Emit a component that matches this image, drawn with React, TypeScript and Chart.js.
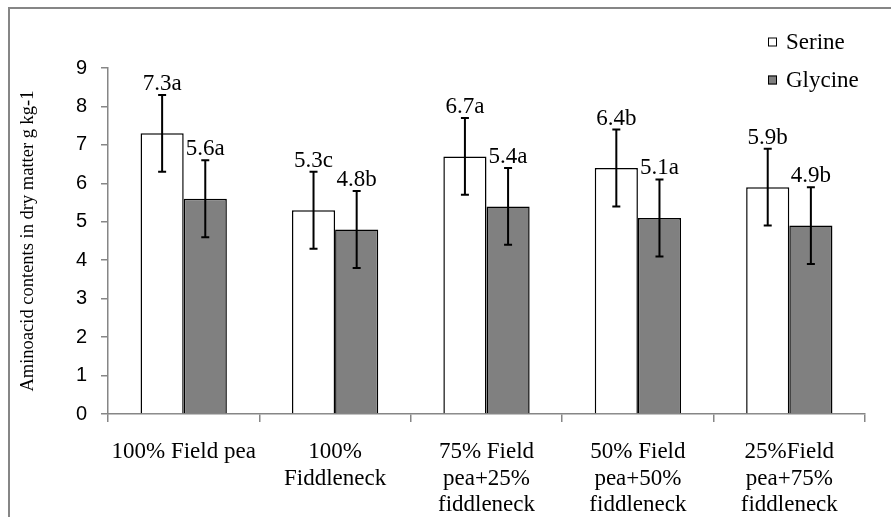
import React, { useEffect, useRef } from "react";
import { Chart, registerables } from "chart.js";

Chart.register(...registerables);

const categories: string[][] = [
  ["100% Field pea"],
  ["100%", "Fiddleneck"],
  ["75% Field", "pea+25%", "fiddleneck"],
  ["50% Field", "pea+50%", "fiddleneck"],
  ["25%Field", "pea+75%", "fiddleneck"],
];
const serineValues = [7.3, 5.3, 6.7, 6.4, 5.9];
const glycineValues = [5.6, 4.8, 5.4, 5.1, 4.9];
const serineErrors = [1, 1, 1, 1, 1];
const glycineErrors = [1, 1, 1, 1, 1];
const serineLetters = ["a", "c", "a", "b", "b"];
const glycineLetters = ["a", "b", "a", "a", "b"];
const yTicks = [0, 1, 2, 3, 4, 5, 6, 7, 8, 9];

const SERIF = "'Liberation Serif', 'Times New Roman', serif";
const SANS = "'Liberation Sans', Arial, sans-serif";
const AXIS_GRAY = "#868686";
const TEXT_SIZE = 23;

const errorsByDataset = [serineErrors, glycineErrors];
const lettersByDataset = [serineLetters, glycineLetters];

const errorBarPlugin = {
  id: "errorBars",
  afterDatasetsDraw(chart: any) {
    const ctx = chart.ctx;
    const yScale = chart.scales.y;
    ctx.save();
    chart.data.datasets.forEach((ds: any, di: number) => {
      const meta = chart.getDatasetMeta(di);
      meta.data.forEach((bar: any, i: number) => {
        const v = ds.data[i];
        const e = errorsByDataset[di][i];
        const x = bar.x;
        const yTop = yScale.getPixelForValue(v + e);
        const yBot = yScale.getPixelForValue(v - e);
        ctx.strokeStyle = "#000";
        ctx.lineWidth = 2;
        ctx.beginPath();
        ctx.moveTo(x, yTop);
        ctx.lineTo(x, yBot);
        ctx.moveTo(x - 4, yTop);
        ctx.lineTo(x + 4, yTop);
        ctx.moveTo(x - 4, yBot);
        ctx.lineTo(x + 4, yBot);
        ctx.stroke();
        ctx.fillStyle = "#000";
        ctx.font = `${TEXT_SIZE}px ${SERIF}`;
        ctx.textAlign = "center";
        ctx.textBaseline = "alphabetic";
        ctx.fillText(v.toFixed(1) + lettersByDataset[di][i], x, yTop - 5);
      });
    });
    ctx.restore();
  },
};

const legendPlugin = {
  id: "cornerLegend",
  afterDraw(chart: any) {
    const ctx = chart.ctx;
    const area = chart.chartArea;
    ctx.save();
    const left = area.right - 97;
    const rows = [area.top - 26, area.top + 12];
    chart.data.datasets.forEach((ds: any, di: number) => {
      const cy = rows[di];
      ctx.fillStyle = ds.backgroundColor;
      ctx.fillRect(left, cy - 4.5, 9, 9);
      ctx.strokeStyle = "#000";
      ctx.lineWidth = 1;
      ctx.strokeRect(left + 0.5, cy - 4, 8, 8);
      ctx.fillStyle = "#000";
      ctx.font = `${TEXT_SIZE}px ${SERIF}`;
      ctx.textAlign = "left";
      ctx.textBaseline = "middle";
      ctx.fillText(ds.label, left + 18, cy + 1);
    });
    ctx.restore();
  },
};

export default function App() {
  const canvasRef = useRef<HTMLCanvasElement | null>(null);

  useEffect(() => {
    if (!canvasRef.current) return;
    const chart = new Chart(canvasRef.current, {
      type: "bar",
      data: {
        labels: categories,
        datasets: [
          {
            label: "Serine",
            data: serineValues,
            backgroundColor: "#ffffff",
            borderColor: "#000000",
            borderWidth: 1.5,
            categoryPercentage: 0.57,
            barPercentage: 1.0,
          },
          {
            label: "Glycine",
            data: glycineValues,
            backgroundColor: "#808080",
            borderColor: "#000000",
            borderWidth: 1.5,
            categoryPercentage: 0.57,
            barPercentage: 1.0,
          },
        ],
      },
      options: {
        responsive: false,
        animation: false,
        layout: { padding: { left: 0, top: 68, right: 26, bottom: 0 } },
        plugins: {
          legend: { display: false },
          tooltip: { enabled: false },
        },
        scales: {
          x: {
            grid: {
              display: true,
              drawOnChartArea: false,
              drawTicks: true,
              tickLength: 8,
              color: AXIS_GRAY,
              lineWidth: 1.5,
            },
            border: { display: true, color: AXIS_GRAY, width: 1.5 },
            ticks: {
              color: "#000",
              font: { family: SERIF, size: TEXT_SIZE, lineHeight: 1.15 },
              padding: 17,
              maxRotation: 0,
              autoSkip: false,
            },
            afterFit(scale: any) {
              scale.height = 103;
            },
          },
          y: {
            min: 0,
            max: 9,
            afterBuildTicks(scale: any) {
              scale.ticks = yTicks.map((v) => ({ value: v }));
            },
            grid: {
              display: true,
              drawOnChartArea: false,
              drawTicks: true,
              tickLength: 7,
              color: AXIS_GRAY,
              lineWidth: 1.5,
            },
            border: { display: true, color: AXIS_GRAY, width: 1.5 },
            ticks: {
              color: "#000",
              font: { family: SANS, size: 20 },
              padding: 14,
            },
            title: {
              display: true,
              text: "Aminoacid contents in dry matter g kg-1",
              color: "#000",
              font: { family: SERIF, size: 18.5 },
              padding: { top: 17, bottom: 0 },
            },
            afterFit(scale: any) {
              scale.width = 108;
            },
          },
        },
      },
      plugins: [errorBarPlugin, legendPlugin],
    });
    return () => chart.destroy();
  }, []);

  return (
    <div style={{ position: "fixed", left: 0, top: 0, width: 891, height: 517, background: "#fff", overflow: "hidden" }}>
      <canvas ref={canvasRef} width={891} height={517} style={{ width: 891, height: 517, display: "block" }} />
      <div
        style={{
          position: "absolute",
          left: 8,
          top: 7,
          width: 900,
          height: 530,
          borderTop: `2px solid ${AXIS_GRAY}`,
          borderLeft: `2px solid ${AXIS_GRAY}`,
          pointerEvents: "none",
        }}
      />
    </div>
  );
}
